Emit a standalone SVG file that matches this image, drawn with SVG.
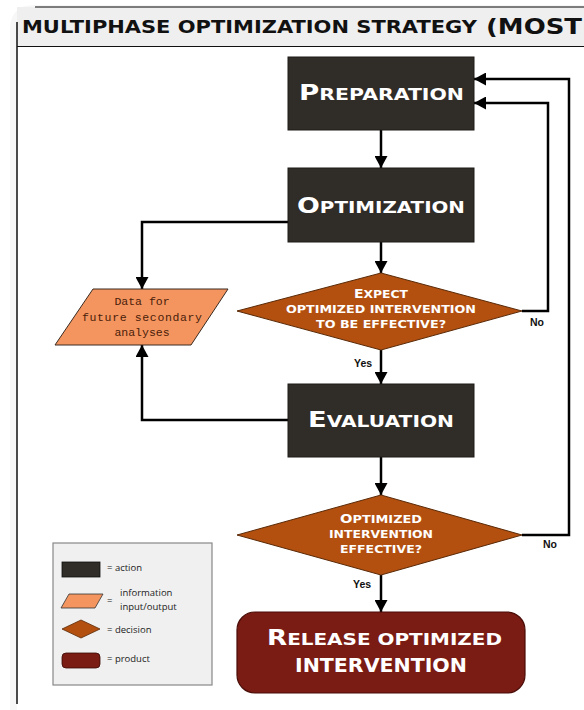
<svg xmlns="http://www.w3.org/2000/svg" width="584" height="710" viewBox="0 0 584 710">
<style>
.ln{fill:none;stroke:#000;stroke-width:2.5;marker-end:url(#ah)}
.act{fill:#302c27;stroke:#1e1b18;stroke-width:1}
.dec{fill:#b3500f;stroke:#5a2a08;stroke-width:1}
.bt{font-family:"DejaVu Sans","Liberation Sans",sans-serif;fill:#fff;font-weight:bold}
.dt{font-family:"DejaVu Sans","Liberation Sans",sans-serif;fill:#fff;font-weight:bold;font-size:11px}
.lb{font-family:"Liberation Sans",Arial,sans-serif;fill:#111;font-weight:bold;font-size:10.5px}
.lg{font-family:"Open Sans","Liberation Sans",sans-serif;fill:#222;font-size:9.5px}
.io{font-family:"Liberation Mono","DejaVu Sans Mono",monospace;fill:#4a200a;font-size:11.5px}
</style>
<defs>
<marker id="ah" markerUnits="userSpaceOnUse" markerWidth="13" markerHeight="13" refX="12" refY="6.5" orient="auto">
<path d="M0,0 L12,6.5 L0,13 z" fill="#000"/>
</marker>
</defs>
<rect width="584" height="710" fill="#fff"/>
<path d="M10,710 V30 Q10,5 35,5 H584 V710 z" fill="#f7f7f7"/>
<rect x="17" y="7" width="567" height="40" fill="#efefef"/>
<line x1="35" y1="7" x2="584" y2="7" stroke="#555" stroke-width="1.5"/>
<rect x="17" y="47" width="567" height="663" fill="#fff"/>
<line x1="17" y1="22" x2="17" y2="704" stroke="#111" stroke-width="1.5"/>
<line x1="17" y1="46.5" x2="584" y2="46.5" stroke="#111" stroke-width="1.2"/>
<g id="title">
<text x="22" y="33" font-family="DejaVu Sans,Liberation Sans,sans-serif" font-weight="bold" font-size="17.5" fill="#111" textLength="455" lengthAdjust="spacingAndGlyphs">MULTIPHASE OPTIMIZATION STRATEGY</text>
<text x="486" y="34" font-family="DejaVu Sans,Liberation Sans,sans-serif" font-weight="bold" font-size="21" fill="#111" textLength="96" lengthAdjust="spacingAndGlyphs">(MOST</text>
</g>
<g id="connectors">
<path class="ln" d="M381,130 V168"/>
<path class="ln" d="M381,242 V273"/>
<path class="ln" d="M381,350 V384"/>
<path class="ln" d="M381,457 V495"/>
<path class="ln" d="M381,575 V612"/>
<path class="ln" d="M522,311 H548 V103 H474"/>
<path class="ln" d="M522,535 H569 V79 H474"/>
<path class="ln" d="M288,222 H142 V289"/>
<path class="ln" d="M288,420 H142 V345"/>
<text class="lb" x="354" y="367">Yes</text>
<text class="lb" x="530" y="326">No</text>
<text class="lb" x="543" y="548">No</text>
<text class="lb" x="353" y="588">Yes</text>
</g>
<g id="preparation">
<rect class="act" x="288" y="57" width="186" height="73"/>
<text class="bt" x="299" y="100" textLength="165" lengthAdjust="spacingAndGlyphs"><tspan font-size="21">P</tspan><tspan font-size="15.5">REPARATION</tspan></text>
</g>
<g id="optimization">
<rect class="act" x="288" y="168" width="186" height="74"/>
<text class="bt" x="297" y="213" textLength="168" lengthAdjust="spacingAndGlyphs"><tspan font-size="21">O</tspan><tspan font-size="15.5">PTIMIZATION</tspan></text>
</g>
<g id="decision1">
<polygon class="dec" points="381,273 522,311 381,350 237,311"/>
<text class="dt" x="381" y="298" text-anchor="middle" textLength="54" lengthAdjust="spacingAndGlyphs"><tspan font-size="12.5">E</tspan>XPECT</text>
<text class="dt" x="381" y="313" text-anchor="middle" textLength="190" lengthAdjust="spacingAndGlyphs">OPTIMIZED INTERVENTION</text>
<text class="dt" x="381" y="328" text-anchor="middle" textLength="130" lengthAdjust="spacingAndGlyphs">TO BE EFFECTIVE?</text>
</g>
<g id="data">
<polygon points="93,289 228,289 191,345 55,345" fill="#f4955f" stroke="#3a2a20" stroke-width="1"/>
<text class="io" x="142" y="305" text-anchor="middle">Data for</text>
<text class="io" x="142" y="321" text-anchor="middle" textLength="120" lengthAdjust="spacing">future secondary</text>
<text class="io" x="142" y="336" text-anchor="middle">analyses</text>
</g>
<g id="evaluation">
<rect class="act" x="288" y="384" width="186" height="73"/>
<text class="bt" x="308" y="427" textLength="146" lengthAdjust="spacingAndGlyphs"><tspan font-size="21">E</tspan><tspan font-size="15.5">VALUATION</tspan></text>
</g>
<g id="decision2">
<polygon class="dec" points="381,495 522,535 381,575 237,535"/>
<text class="dt" x="381" y="523" text-anchor="middle" textLength="82" lengthAdjust="spacingAndGlyphs"><tspan font-size="12.5">O</tspan>PTIMIZED</text>
<text class="dt" x="381" y="538" text-anchor="middle" textLength="104" lengthAdjust="spacingAndGlyphs">INTERVENTION</text>
<text class="dt" x="381" y="553" text-anchor="middle" textLength="82" lengthAdjust="spacingAndGlyphs">EFFECTIVE?</text>
</g>
<g id="release">
<rect x="237" y="612" width="288" height="81" rx="18" fill="#7a1b14" stroke="#4a0d08" stroke-width="1.2"/>
<text class="bt" x="267" y="645" textLength="235" lengthAdjust="spacingAndGlyphs"><tspan font-size="21">R</tspan><tspan font-size="16">ELEASE OPTIMIZED</tspan></text>
<text class="bt" x="295" y="672" font-size="19.5" textLength="172" lengthAdjust="spacingAndGlyphs">INTERVENTION</text>
</g>
<g id="legend">
<rect x="53" y="543" width="159" height="142" fill="#f0f0f0" stroke="#888" stroke-width="1.2"/>
<rect x="62" y="562" width="38" height="15" fill="#302c27" stroke="#111" stroke-width="0.8"/>
<text class="lg" x="107" y="571">= action</text>
<polygon points="69,594 103,594 95,608 61,608" fill="#f4955f" stroke="#333" stroke-width="0.8"/>
<text class="lg" x="107" y="604">=</text>
<text class="lg" x="120" y="596">information</text>
<text class="lg" x="120" y="610">input/output</text>
<polygon points="81,620 100,629 81,638 62,629" fill="#b3500f" stroke="#5a2a08" stroke-width="0.8"/>
<text class="lg" x="107" y="633">= decision</text>
<rect x="62" y="653" width="38" height="15" rx="4" fill="#7a1b14" stroke="#3a0a06" stroke-width="0.8"/>
<text class="lg" x="107" y="662">= product</text>
</g>
</svg>
